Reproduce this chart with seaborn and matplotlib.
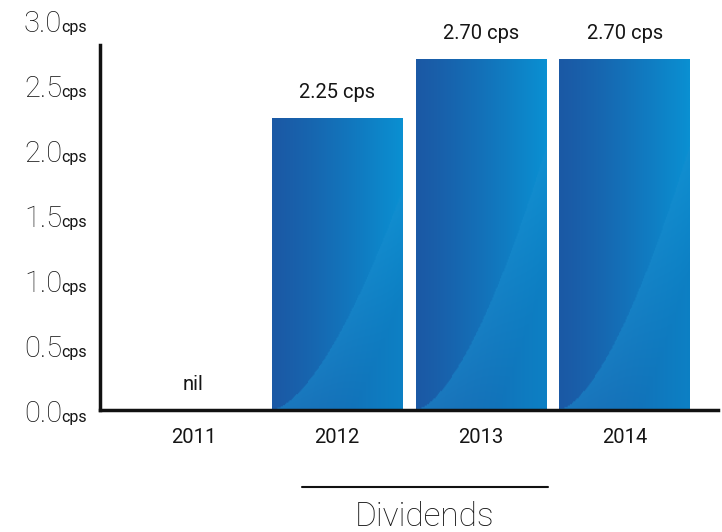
import numpy as np
import matplotlib
matplotlib.use("Agg")
import matplotlib.pyplot as plt
import matplotlib.transforms as mtransforms
from matplotlib.lines import Line2D
from matplotlib.colors import to_rgb
import seaborn as sns

years = ["2011", "2012", "2013", "2014"]
dividends = [0.0, 2.25, 2.70, 2.70]
value_labels = ["nil", "2.25 cps", "2.70 cps", "2.70 cps"]
ytick_values = [0.0, 0.5, 1.0, 1.5, 2.0, 2.5, 3.0]
ytick_numbers = ["0.0", "0.5", "1.0", "1.5", "2.0", "2.5", "3.0"]
ytick_unit = "cps"
xlabel = "Dividends"

sns.set_style("white")
plt.rcParams["font.family"] = ["Roboto", "DejaVu Sans"]

fig = plt.figure(figsize=(7.22, 5.32), dpi=100)
ax = fig.add_axes([100/722, 1-410/532, 618/722, 390/532])

sns.barplot(x=years, y=dividends, width=0.906, color="#1a5ca8", ax=ax,
            saturation=1, edgecolor="none")

# gradient fill
dark = np.array(to_rgb("#1b59a5"))
light = np.array(to_rgb("#0a90d2"))
hl = np.array(to_rgb("#1a8fd0"))
nu, nv = 120, 240
u = np.linspace(0, 1, nu)[None, :]
v = np.linspace(1, 0, nv)[:, None]
t = u ** 1.2
img = dark[None, None, :] * (1 - t[..., None]) + light[None, None, :] * t[..., None]
curve = 0.75 * u ** 1.6
below = v < curve
d = np.clip((curve - v) / 0.35, 0, 1)
mix = np.where(below, 0.55 * (1 - d) * (1 - u * 0.3), 0.0)
darker = np.array(to_rgb("#1262aa"))
img = img * (1 - mix[..., None]) + hl[None, None, :] * mix[..., None]
img = np.where(below[..., None], img * (1 - 0.35 * d[..., None] * u[..., None]) + darker * 0.35 * d[..., None] * u[..., None], img)
img = np.clip(img, 0, 1)

for p in ax.patches:
    h = p.get_height()
    if h <= 0:
        continue
    x0 = p.get_x()
    w = p.get_width()
    p.set_facecolor("none")
    im = ax.imshow(img, extent=[x0, x0 + w, 0, h], aspect="auto", zorder=p.get_zorder(),
                   interpolation="bilinear")
    im.set_clip_path(p)

ax.set_xlim(-0.65, 3.65)
ax.set_ylim(0, 3.0)

txt_color = "#151515"
for i, (val, lab) in enumerate(zip(dividends, value_labels)):
    ax.text(i, val + 0.12, lab, ha="center", va="bottom", fontsize=14.5,
            color=txt_color)

sns.despine(ax=ax, top=True, right=True)
ax.spines["left"].set_bounds(0, 2.81)
ax.spines["left"].set_linewidth(2.5)
ax.spines["bottom"].set_linewidth(2.5)
ax.spines["left"].set_color("#111111")
ax.spines["bottom"].set_color("#111111")
ax.spines["bottom"].set_zorder(5)

ax.set_yticks(ytick_values)
ax.set_yticklabels([])
ax.tick_params(axis="y", length=0)
ax.tick_params(axis="x", length=0, pad=13, labelsize=14.5, labelcolor=txt_color)

trans = mtransforms.blended_transform_factory(ax.transAxes, ax.transData)
for val, num in zip(ytick_values, ytick_numbers):
    ax.text(-38/618, val - 0.09, num, ha="right", va="baseline", fontsize=21,
            color=txt_color, fontweight="light", transform=trans, clip_on=False)
    ax.text(-39/618, val - 0.09, ytick_unit, ha="left", va="baseline", fontsize=11.5,
            color=txt_color, transform=trans, clip_on=False)

fig.add_artist(Line2D([302/722, 548/722], [1-487/532, 1-487/532], color="#111111",
                      lw=1.5, transform=fig.transFigure))
fig.text(425/722, 1-517/532, xlabel, ha="center", va="center", fontsize=24,
         color=txt_color, fontweight="light")

fig.savefig("out.png", dpi=100)
